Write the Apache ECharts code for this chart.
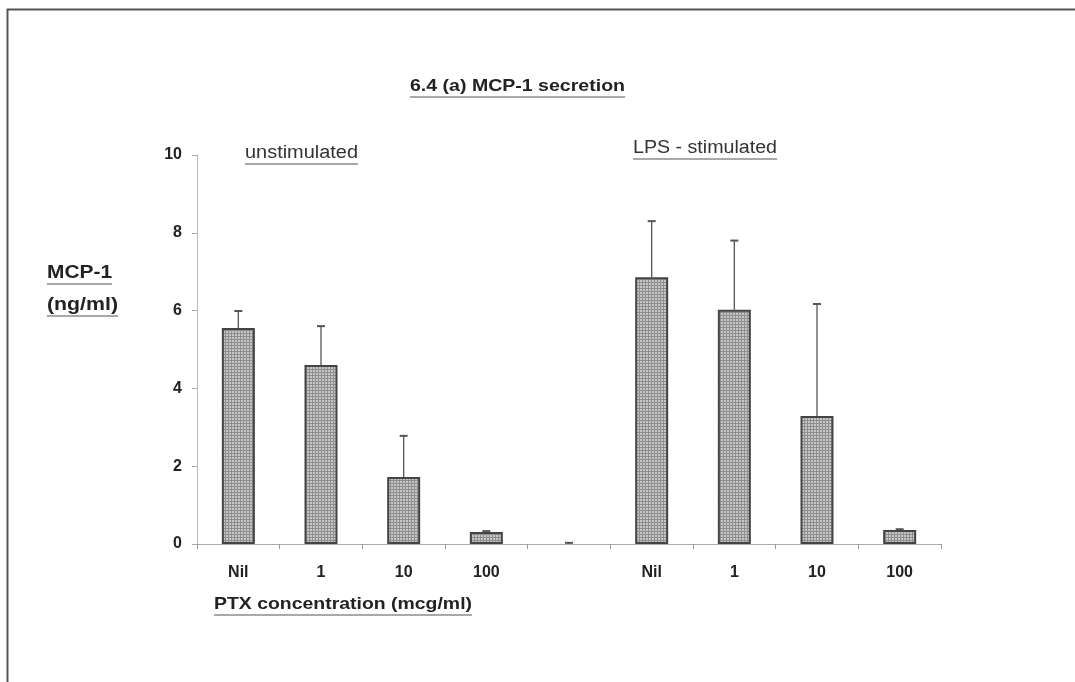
<!DOCTYPE html>
<html>
<head>
<meta charset="utf-8">
<script src="https://cdn.jsdelivr.net/npm/echarts@6/dist/echarts.min.js"></script>
<style>
html,body{margin:0;padding:0;background:#fff;}
#chart{width:1075px;height:682px;}
</style>
</head>
<body>
<div id="chart"></div>
<script>
// ---- data ----
var categories = ['Nil', '1', '10', '100', '', 'Nil', '1', '10', '100'];
var meanValues = [5.55, 4.6, 1.72, 0.31, null, 6.86, 6.02, 3.29, 0.36];
var errorTops  = [5.99, 5.6, 2.78, 0.33, 0.03, 8.3, 7.8, 6.17, 0.38];
var yTicks = [0, 2, 4, 6, 8, 10];

var FONT = '"Liberation Sans", Arial, sans-serif';

// hatch pattern for the bars
var pat = document.createElement('canvas');
pat.width = 3; pat.height = 3;
var pc = pat.getContext('2d');
pc.fillStyle = '#c6c6c6'; pc.fillRect(0, 0, 3, 3);
pc.fillStyle = '#8f8f8f'; pc.fillRect(0, 0, 3, 1); pc.fillRect(0, 0, 1, 3);

var chart = echarts.init(document.getElementById('chart'), null, {renderer: 'canvas'});

var mctx = document.createElement('canvas').getContext('2d');
function textW(str, size, weight) {
  mctx.font = (weight || 'normal') + ' ' + size + 'px ' + FONT;
  return mctx.measureText(str).width;
}
// text stretched horizontally to the width it has in the picture, with underline
function underlinedText(str, x, y, size, weight, color, targetW) {
  var w = textW(str, size, weight);
  var s = targetW / w;
  return [
    {type: 'text', x: x, y: y, scaleX: s, scaleY: 1,
     style: {text: str, x: 0, y: 0, verticalAlign: 'top', font: (weight || 'normal') + ' ' + size + 'px ' + FONT, fill: color || '#222'}},
    {type: 'line', shape: {x1: x, y1: y + size + 2, x2: x + targetW, y2: y + size + 2}, style: {stroke: '#555', lineWidth: 1.2}}
  ];
}

var errData = errorTops.map(function (e, i) { return [i, meanValues[i] == null ? 0 : meanValues[i], e]; });

var graphics = [];
// frame (top and left)
graphics.push({type: 'polyline', shape: {points: [[7.5, 682], [7.5, 9.5], [1075, 9.5]]}, style: {stroke: '#555', lineWidth: 2, fill: null}});
graphics = graphics.concat(underlinedText('6.4 (a) MCP-1 secretion', 410, 78, 17, 'bold', '#222', 215));
graphics = graphics.concat(underlinedText('unstimulated', 245, 144, 18, 'normal', '#333', 113));
graphics = graphics.concat(underlinedText('LPS - stimulated', 633, 139, 18, 'normal', '#333', 144));
graphics = graphics.concat(underlinedText('MCP-1', 47, 263, 19, 'bold', '#222', 65));
graphics = graphics.concat(underlinedText('(ng/ml)', 47, 295, 19, 'bold', '#222', 71));
graphics = graphics.concat(underlinedText('PTX concentration (mcg/ml)', 214, 596, 17, 'bold', '#222', 258));

var option = {
  backgroundColor: '#fff',
  animation: false,
  grid: {left: 197, right: 134, top: 155, bottom: 138, containLabel: false},
  xAxis: {
    type: 'category',
    data: categories,
    boundaryGap: true,
    axisLine: {lineStyle: {color: '#aaa', width: 1}},
    axisTick: {show: true, length: 5, lineStyle: {color: '#999'}},
    axisLabel: {margin: 21, color: '#222', fontSize: 16, fontWeight: 'bold', fontFamily: FONT, interval: 0},
    splitLine: {show: false}
  },
  yAxis: {
    type: 'value',
    min: yTicks[0], max: yTicks[yTicks.length - 1], interval: 2,
    axisLine: {show: true, lineStyle: {color: '#bbb', width: 1}},
    axisTick: {show: true, length: 5, lineStyle: {color: '#aaa'}},
    axisLabel: {margin: 15, color: '#222', fontSize: 16, fontWeight: 'bold', fontFamily: FONT},
    splitLine: {show: false}
  },
  series: [
    {
      type: 'bar',
      data: meanValues,
      barWidth: 33,
      itemStyle: {color: {image: pat, repetition: 'repeat'}, borderColor: '#444', borderWidth: 2}
    },
    {
      type: 'custom',
      data: errData,
      z: 1,
      renderItem: function (params, api) {
        var x = api.coord([api.value(0), api.value(1)])[0];
        var yb = api.coord([api.value(0), api.value(1)])[1];
        var yt = api.coord([api.value(0), api.value(2)])[1];
        return {
          type: 'group',
          children: [
            {type: 'line', shape: {x1: x, y1: yb, x2: x, y2: yt}, style: {stroke: '#555', lineWidth: 1.3}},
            {type: 'line', shape: {x1: x - 4, y1: yt, x2: x + 4, y2: yt}, style: {stroke: '#555', lineWidth: 2}}
          ]
        };
      }
    }
  ],
  graphic: graphics
};
chart.setOption(option);
</script>
</body>
</html>
